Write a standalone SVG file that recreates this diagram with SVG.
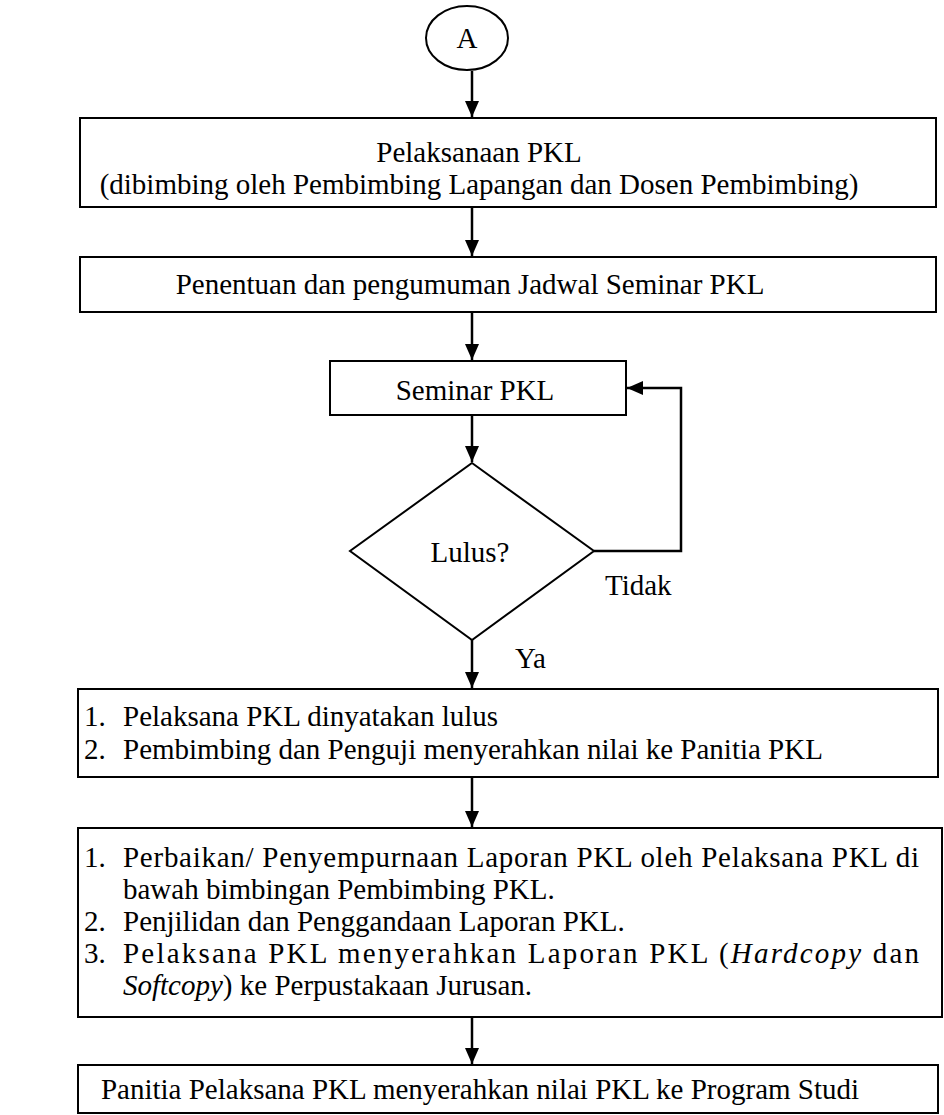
<svg xmlns="http://www.w3.org/2000/svg" width="944" height="1115" viewBox="0 0 944 1115">
<style>
  .box { fill: #ffffff; stroke: #000000; stroke-width: 2; }
  .ln { fill: none; stroke: #000000; stroke-width: 2.5; }
  .t { font-family: "Liberation Serif", "Times New Roman", serif; font-size: 29px; fill: #000000; }
  .c { text-anchor: middle; }
  .i { font-style: italic; }
</style>
<defs>
  <marker id="arr" viewBox="0 0 16 16" refX="16" refY="8" markerWidth="16" markerHeight="16" markerUnits="userSpaceOnUse" orient="auto">
    <path d="M0,1 L16,8 L0,15 Z" fill="#000000"/>
  </marker>
</defs>
<rect width="944" height="1115" fill="#ffffff"/>

<g id="connectors">
  <line class="ln" x1="472" y1="71" x2="472" y2="117" marker-end="url(#arr)"/>
  <line class="ln" x1="472" y1="207" x2="472" y2="256" marker-end="url(#arr)"/>
  <line class="ln" x1="472" y1="312" x2="472" y2="360" marker-end="url(#arr)"/>
  <line class="ln" x1="472" y1="415" x2="472" y2="462" marker-end="url(#arr)"/>
  <polyline class="ln" points="594,551 681,551 681,388 627,388" marker-end="url(#arr)"/>
  <line class="ln" x1="472" y1="640" x2="472" y2="688" marker-end="url(#arr)"/>
  <line class="ln" x1="472" y1="777" x2="472" y2="827" marker-end="url(#arr)"/>
  <line class="ln" x1="472" y1="1017" x2="472" y2="1064" marker-end="url(#arr)"/>
</g>

<g id="start">
  <ellipse class="box" cx="467" cy="38" rx="41" ry="32"/>
  <text class="t c" x="467" y="48">A</text>
</g>

<g id="pelaksanaan">
  <rect class="box" x="80" y="118" width="856" height="89"/>
  <text class="t c" x="479" y="162">Pelaksanaan PKL</text>
  <text class="t c" x="479" y="194">(dibimbing oleh Pembimbing Lapangan dan Dosen Pembimbing)</text>
</g>

<g id="jadwal">
  <rect class="box" x="80" y="257" width="856" height="55"/>
  <text class="t c" x="470" y="294">Penentuan dan pengumuman Jadwal Seminar PKL</text>
</g>

<g id="seminar">
  <rect class="box" x="330" y="361" width="296" height="54"/>
  <text class="t c" x="475" y="400">Seminar PKL</text>
</g>

<g id="lulus">
  <polygon class="box" points="472,463 594,551 472,640 350,551"/>
  <text class="t c" x="470" y="562">Lulus?</text>
</g>

<g id="labels">
  <text class="t" x="605" y="595">Tidak</text>
  <text class="t" x="515" y="668">Ya</text>
</g>

<g id="dinyatakan-lulus">
  <rect class="box" x="78" y="689" width="860" height="88"/>
  <text class="t" x="84" y="726">1.</text>
  <text class="t" x="123" y="726">Pelaksana PKL dinyatakan lulus</text>
  <text class="t" x="84" y="759">2.</text>
  <text class="t" x="123" y="759">Pembimbing dan Penguji menyerahkan nilai ke Panitia PKL</text>
</g>

<g id="perbaikan">
  <rect class="box" x="78" y="828" width="864" height="189"/>
  <text class="t" x="84" y="867">1.</text>
  <text class="t" x="123" y="867" textLength="796" lengthAdjust="spacing">Perbaikan/ Penyempurnaan Laporan PKL oleh Pelaksana PKL di</text>
  <text class="t" x="123" y="899">bawah bimbingan Pembimbing PKL.</text>
  <text class="t" x="84" y="931">2.</text>
  <text class="t" x="123" y="931">Penjilidan dan Penggandaan Laporan PKL.</text>
  <text class="t" x="84" y="963">3.</text>
  <text class="t" x="123" y="963" textLength="796" lengthAdjust="spacing">Pelaksana PKL menyerahkan Laporan PKL (<tspan class="i">Hardcopy</tspan> dan</text>
  <text class="t" x="123" y="995"><tspan class="i">Softcopy</tspan>) ke Perpustakaan Jurusan.</text>
</g>

<g id="panitia">
  <rect class="box" x="78" y="1065" width="860" height="48"/>
  <text class="t c" x="480" y="1099">Panitia Pelaksana PKL menyerahkan nilai PKL ke Program Studi</text>
</g>
</svg>
